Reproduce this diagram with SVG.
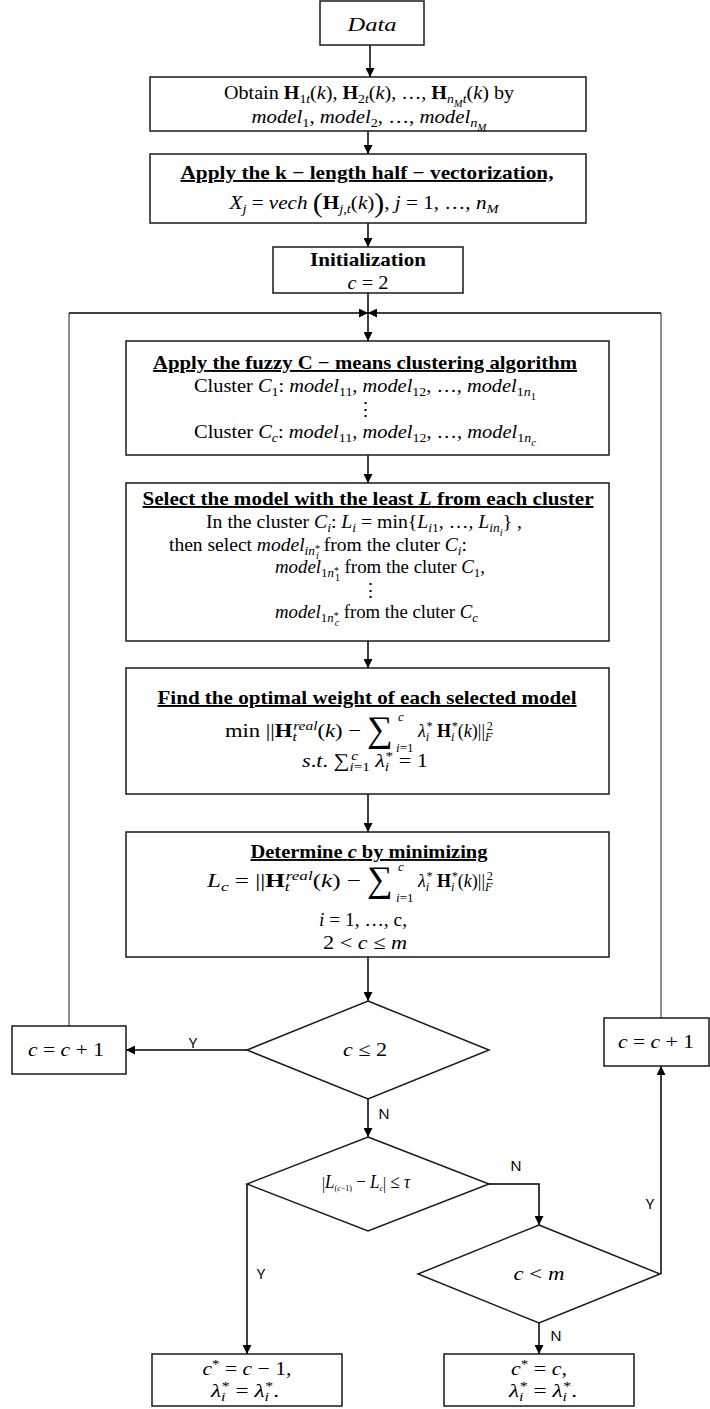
<svg xmlns="http://www.w3.org/2000/svg" width="710" height="1409" viewBox="0 0 710 1409">
<defs>
<style>
.box{fill:#fff;stroke:#1a1a1a;stroke-width:1.5}
.ln{fill:none;stroke:#000;stroke-width:1.5}
.gl{fill:none;stroke:#6a6a6a;stroke-width:1.5}
.tx{font-family:"Liberation Serif","Times New Roman",serif;font-size:19px;fill:#000;text-anchor:middle}
.st{text-anchor:start}
.en{text-anchor:end}
.hd{font-weight:bold;text-decoration:underline}
.b{font-weight:bold}
.i{font-style:italic}
.sb{font-size:13px;baseline-shift:-4px}
.sp{font-size:13px;baseline-shift:7px}
.ss{font-size:10px;baseline-shift:-8px}
.sx{font-size:10px;baseline-shift:-1px}
.sm{font-family:"Liberation Serif",serif;font-size:36px;fill:#000}
.lm{font-family:"Liberation Serif",serif;font-size:13px;fill:#000;text-anchor:start}
.lb{font-family:"Noto Sans","Open Sans",sans-serif;font-size:15px;fill:#000;text-anchor:middle}
</style>
<marker id="arr" viewBox="0 0 10 10" refX="10" refY="5" markerWidth="9" markerHeight="9" markerUnits="userSpaceOnUse" orient="auto">
<path d="M0,0 L10,5 L0,10 z" fill="#000"/>
</marker>
</defs>
<rect width="710" height="1409" fill="#fff"/>

<!-- flow lines -->
<g id="connectors">
<path class="ln" d="M370,45 V77" marker-end="url(#arr)"/>
<path class="ln" d="M368,131 V154" marker-end="url(#arr)"/>
<path class="ln" d="M368,223 V247" marker-end="url(#arr)"/>
<path class="ln" d="M368,293 V313"/>
<path class="gl" d="M69,1026 V313"/>
<path class="ln" d="M69,313 H368" marker-end="url(#arr)"/>
<path class="gl" d="M661,1018 V313"/>
<path class="ln" d="M661,313 H368" marker-end="url(#arr)"/>
<path class="ln" d="M368,313 V341" marker-end="url(#arr)"/>
<path class="ln" d="M368,455 V483" marker-end="url(#arr)"/>
<path class="ln" d="M368,641 V668" marker-end="url(#arr)"/>
<path class="ln" d="M368,794 V832" marker-end="url(#arr)"/>
<path class="ln" d="M368,957 V1001" marker-end="url(#arr)"/>
<path class="ln" d="M247,1050 H126" marker-end="url(#arr)"/>
<path class="ln" d="M368,1099 V1137" marker-end="url(#arr)"/>
<path class="ln" d="M489,1184 H539 V1225" marker-end="url(#arr)"/>
<path class="ln" d="M247,1184 V1354" marker-end="url(#arr)"/>
<path class="ln" d="M661,1274 V1066" marker-end="url(#arr)"/>
<path class="ln" d="M539,1323 V1354" marker-end="url(#arr)"/>
<text class="lb" x="193" y="1048">Y</text>
<text class="lb" x="384" y="1119">N</text>
<text class="lb" x="516" y="1171">N</text>
<text class="lb" x="650" y="1209">Y</text>
<text class="lb" x="261" y="1279">Y</text>
<text class="lb" x="556" y="1341">N</text>
</g>

<g id="data">
<rect class="box" x="320" y="1" width="104" height="44"/>
<text class="tx i" x="372" y="31" textLength="49" lengthAdjust="spacingAndGlyphs">Data</text>
</g>

<g id="obtain">
<rect class="box" x="150" y="77" width="436" height="54"/>
<text class="tx" x="369" y="99" textLength="290" lengthAdjust="spacingAndGlyphs">Obtain <tspan class="b">H</tspan><tspan class="sb">1<tspan class="i">t</tspan></tspan>(<tspan class="i">k</tspan>), <tspan class="b">H</tspan><tspan class="sb">2<tspan class="i">t</tspan></tspan>(<tspan class="i">k</tspan>), …, <tspan class="b">H</tspan><tspan class="sb i">n</tspan><tspan class="ss i">M</tspan><tspan class="sb i">t</tspan>(<tspan class="i">k</tspan>) by</text>
<text class="tx" x="369" y="123" textLength="235" lengthAdjust="spacingAndGlyphs"><tspan class="i">model</tspan><tspan class="sb">1</tspan>, <tspan class="i">model</tspan><tspan class="sb">2</tspan>, …, <tspan class="i">model</tspan><tspan class="sb i">n</tspan><tspan class="ss i">M</tspan></text>
</g>

<g id="vectorize">
<rect class="box" x="150" y="154" width="436" height="69"/>
<text class="tx hd" x="367" y="179" textLength="373" lengthAdjust="spacingAndGlyphs">Apply the k − length half − vectorization,</text>
<text class="tx" x="364" y="209" textLength="269" lengthAdjust="spacingAndGlyphs"><tspan class="i">X</tspan><tspan class="sb i">j</tspan> = <tspan class="i">vech</tspan> <tspan font-size="27" baseline-shift="-3">(</tspan><tspan class="b">H</tspan><tspan class="sb"><tspan class="i">j</tspan>,<tspan class="i">t</tspan></tspan>(<tspan class="i">k</tspan>)<tspan font-size="27" baseline-shift="-3">)</tspan>, <tspan class="i">j</tspan> = 1, …, <tspan class="i">n</tspan><tspan class="sb i">M</tspan></text>
</g>

<g id="init">
<rect class="box" x="273" y="247" width="190" height="46"/>
<text class="tx b" x="368" y="266" textLength="116" lengthAdjust="spacingAndGlyphs">Initialization</text>
<text class="tx" x="368" y="289" textLength="41" lengthAdjust="spacingAndGlyphs"><tspan class="i">c</tspan> = 2</text>
</g>

<g id="cluster">
<rect class="box" x="126" y="341" width="483" height="114"/>
<text class="tx hd" x="365" y="369" textLength="424" lengthAdjust="spacingAndGlyphs">Apply the fuzzy C − means clustering algorithm</text>
<text class="tx" x="365" y="392" textLength="342" lengthAdjust="spacingAndGlyphs">Cluster <tspan class="i">C</tspan><tspan class="sb">1</tspan>: <tspan class="i">model</tspan><tspan class="sb">11</tspan>, <tspan class="i">model</tspan><tspan class="sb">12</tspan>, …, <tspan class="i">model</tspan><tspan class="sb">1<tspan class="i">n</tspan></tspan><tspan class="ss">1</tspan></text>
<text class="tx" x="365" y="416">⋮</text>
<text class="tx" x="365" y="438" textLength="342" lengthAdjust="spacingAndGlyphs">Cluster <tspan class="i">C</tspan><tspan class="sb i">c</tspan>: <tspan class="i">model</tspan><tspan class="sb">11</tspan>, <tspan class="i">model</tspan><tspan class="sb">12</tspan>, …, <tspan class="i">model</tspan><tspan class="sb">1<tspan class="i">n</tspan></tspan><tspan class="ss i">c</tspan></text>
</g>

<g id="select">
<rect class="box" x="126" y="483" width="483" height="158"/>
<text class="tx hd" x="368" y="505" textLength="451" lengthAdjust="spacingAndGlyphs">Select the model with the least <tspan class="i">L</tspan> from each cluster</text>
<text class="tx" x="364" y="528" textLength="316" lengthAdjust="spacingAndGlyphs">In the cluster <tspan class="i">C</tspan><tspan class="sb i">i</tspan>:  <tspan class="i">L</tspan><tspan class="sb i">i</tspan> = min{<tspan class="i">L</tspan><tspan class="sb"><tspan class="i">i</tspan>1</tspan>, …, <tspan class="i">L</tspan><tspan class="sb i">in</tspan><tspan class="ss i">i</tspan>} ,</text>
<text class="tx st" x="169" y="551" textLength="298" lengthAdjust="spacingAndGlyphs">then select <tspan class="i">model</tspan><tspan class="sb i">in</tspan><tspan class="sx">*</tspan><tspan class="ss i" dx="-4">i</tspan> from the cluter <tspan class="i">C</tspan><tspan class="sb i">i</tspan>:</text>
<text class="tx st" x="275" y="573" textLength="210" lengthAdjust="spacingAndGlyphs"><tspan class="i">model</tspan><tspan class="sb">1<tspan class="i">n</tspan></tspan><tspan class="sx">*</tspan><tspan class="ss" dx="-4">1</tspan> from the cluter <tspan class="i">C</tspan><tspan class="sb">1</tspan>,</text>
<text class="tx" x="370" y="597">⋮</text>
<text class="tx st" x="275" y="618" textLength="203" lengthAdjust="spacingAndGlyphs"><tspan class="i">model</tspan><tspan class="sb">1<tspan class="i">n</tspan></tspan><tspan class="sx">*</tspan><tspan class="ss i" dx="-4">c</tspan> from the cluter <tspan class="i">C</tspan><tspan class="sb i">c</tspan></text>
</g>

<g id="weights">
<rect class="box" x="126" y="668" width="483" height="126"/>
<text class="tx hd" x="367" y="704" textLength="419" lengthAdjust="spacingAndGlyphs">Find the optimal weight of each selected model</text>
<text class="tx en" x="361" y="737" textLength="136" lengthAdjust="spacingAndGlyphs">min ||<tspan class="b">H</tspan><tspan class="sb i">t</tspan><tspan class="sp i" dx="-3">real</tspan>(<tspan class="i">k</tspan>) −</text>
<text class="sm" x="367" y="741">∑</text>
<text class="lm i" x="398" y="721">c</text>
<text class="lm" x="396" y="752"><tspan class="i">i</tspan>=1</text>
<text class="tx st" x="418" y="737" textLength="75" lengthAdjust="spacingAndGlyphs"><tspan class="i">λ</tspan><tspan class="sb i">i</tspan><tspan class="sp" dx="-3">*</tspan> <tspan class="b">H</tspan><tspan class="sb i">i</tspan><tspan class="sp" dx="-3">*</tspan>(<tspan class="i">k</tspan>)||<tspan class="sb i">F</tspan><tspan class="sp" dx="-6">2</tspan></text>
<text class="tx" x="365" y="767" textLength="126" lengthAdjust="spacingAndGlyphs"><tspan class="i">s</tspan>.<tspan class="i">t</tspan>. ∑<tspan class="sb"><tspan class="i">i</tspan>=1</tspan><tspan class="sp i" dx="-16">c</tspan><tspan dx="10"> </tspan><tspan class="i">λ</tspan><tspan class="sb i">i</tspan><tspan class="sp" dx="-3">*</tspan> = 1</text>
</g>

<g id="determine">
<rect class="box" x="126" y="832" width="483" height="125"/>
<text class="tx hd" x="369" y="858" textLength="237" lengthAdjust="spacingAndGlyphs">Determine <tspan class="i">c</tspan> by minimizing</text>
<text class="tx en" x="361" y="887" textLength="154" lengthAdjust="spacingAndGlyphs"><tspan class="i">L</tspan><tspan class="sb i">c</tspan> = ||<tspan class="b">H</tspan><tspan class="sb i">t</tspan><tspan class="sp i" dx="-3">real</tspan>(<tspan class="i">k</tspan>) −</text>
<text class="sm" x="367" y="891">∑</text>
<text class="lm i" x="398" y="871">c</text>
<text class="lm" x="396" y="902"><tspan class="i">i</tspan>=1</text>
<text class="tx st" x="418" y="887" textLength="75" lengthAdjust="spacingAndGlyphs"><tspan class="i">λ</tspan><tspan class="sb i">i</tspan><tspan class="sp" dx="-3">*</tspan> <tspan class="b">H</tspan><tspan class="sb i">i</tspan><tspan class="sp" dx="-3">*</tspan>(<tspan class="i">k</tspan>)||<tspan class="sb i">F</tspan><tspan class="sp" dx="-6">2</tspan></text>
<text class="tx" x="363" y="926" textLength="88" lengthAdjust="spacingAndGlyphs"><tspan class="i">i</tspan> = 1, …, c,</text>
<text class="tx" x="365" y="949" textLength="84" lengthAdjust="spacingAndGlyphs">2 &lt; <tspan class="i">c</tspan> ≤ <tspan class="i">m</tspan></text>
</g>

<g id="check-two">
<polygon class="box" points="368,1001 489,1050 368,1099 247,1050"/>
<text class="tx" x="365" y="1056" textLength="44" lengthAdjust="spacingAndGlyphs"><tspan class="i">c</tspan> ≤ 2</text>
</g>

<g id="inc-left">
<rect class="box" x="12" y="1026" width="114" height="48"/>
<text class="tx" x="66" y="1056" textLength="76" lengthAdjust="spacingAndGlyphs"><tspan class="i">c</tspan> = <tspan class="i">c</tspan> + 1</text>
</g>

<g id="check-tau">
<polygon class="box" points="368,1137 489,1184 368,1231 247,1184"/>
<text class="tx" x="366" y="1188" font-size="12" textLength="88" lengthAdjust="spacingAndGlyphs"><tspan font-size="17" baseline-shift="-1">|</tspan><tspan class="i">L</tspan><tspan font-size="9" baseline-shift="-3">(<tspan class="i">c</tspan>−1)</tspan> − <tspan class="i">L</tspan><tspan font-size="9" baseline-shift="-3" font-style="italic">c</tspan><tspan font-size="17" baseline-shift="-1">|</tspan> ≤ <tspan class="i">τ</tspan></text>
</g>

<g id="check-m">
<polygon class="box" points="539,1225 660,1274 539,1323 418,1274"/>
<text class="tx" x="539" y="1280" textLength="51" lengthAdjust="spacingAndGlyphs"><tspan class="i">c</tspan> &lt; <tspan class="i">m</tspan></text>
</g>

<g id="inc-right">
<rect class="box" x="604" y="1018" width="105" height="48"/>
<text class="tx" x="656" y="1048" textLength="76" lengthAdjust="spacingAndGlyphs"><tspan class="i">c</tspan> = <tspan class="i">c</tspan> + 1</text>
</g>

<g id="result-prev">
<rect class="box" x="152" y="1354" width="190" height="52"/>
<text class="tx" x="247" y="1375" textLength="89" lengthAdjust="spacingAndGlyphs"><tspan class="i">c</tspan><tspan class="sp">*</tspan> = <tspan class="i">c</tspan> − 1,</text>
<text class="tx" x="245" y="1397" textLength="68" lengthAdjust="spacingAndGlyphs"><tspan class="i">λ</tspan><tspan class="sb i">i</tspan><tspan class="sp" dx="-3">*</tspan> = <tspan class="i">λ</tspan><tspan class="sb i">i</tspan><tspan class="sp" dx="-3">*</tspan>.</text>
</g>

<g id="result-curr">
<rect class="box" x="444" y="1354" width="190" height="52"/>
<text class="tx" x="539" y="1375" textLength="56" lengthAdjust="spacingAndGlyphs"><tspan class="i">c</tspan><tspan class="sp">*</tspan> = <tspan class="i">c</tspan>,</text>
<text class="tx" x="543" y="1397" textLength="68" lengthAdjust="spacingAndGlyphs"><tspan class="i">λ</tspan><tspan class="sb i">i</tspan><tspan class="sp" dx="-3">*</tspan> = <tspan class="i">λ</tspan><tspan class="sb i">i</tspan><tspan class="sp" dx="-3">*</tspan>.</text>
</g>
</svg>
